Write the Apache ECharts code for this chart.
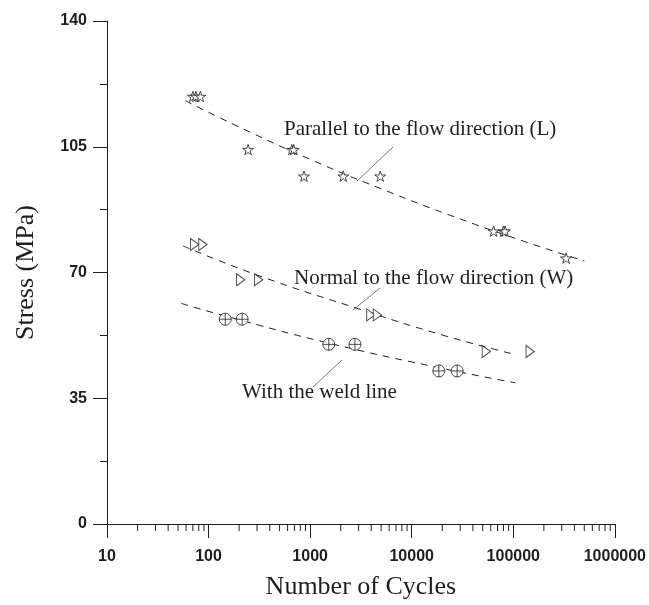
<!DOCTYPE html>
<html>
<head>
<meta charset="utf-8">
<script src="https://cdn.jsdelivr.net/npm/echarts@6/dist/echarts.min.js"></script>
<style>
  html, body { margin: 0; padding: 0; background: #fff; }
  #chart { width: 649px; height: 605px; }
</style>
</head>
<body>
<div id="chart"></div>
<script>
// Fatigue (S-N) results: [number of cycles, stress in MPa]
const parallelL = [[70, 119], [75, 119], [83, 119], [245, 104.2], [660, 104.2], [690, 104.2],
  [870, 96.8], [2120, 96.8], [4900, 96.8], [64000, 81.5], [80000, 81.5], [83000, 81.5], [331000, 74]];
const normalW = [[73, 77.8], [88, 77.8], [207, 68], [311, 68], [3960, 58.2], [4600, 58.2],
  [54300, 48], [146800, 48]];
const weldLine = [[146, 57], [214, 57], [1525, 50], [2760, 50], [18500, 42.6], [28000, 42.6]];

// Trend curves through each data set
const fitL = [[59, 117.8], [200, 110.5], [1000, 101.5], [5000, 93.3], [30000, 84.9], [150000, 78.0], [500000, 73.2]];
const fitW = [[56, 77.4], [300, 69.3], [2700, 60.3], [20000, 52.6], [100000, 47.3]];
const fitWeld = [[54, 61.4], [150, 57.8], [1500, 50.4], [20000, 43.3], [105000, 39.3]];

// Axis ticks
const yTicks = [0, 35, 70, 105, 140];
const xDecades = [10, 100, 1000, 10000, 100000, 1000000];
const xMinor = [];
for (let d = 0; d < xDecades.length - 1; d++) {
  for (let k = 2; k <= 9; k++) xMinor.push(k * xDecades[d]);
}

const INK = '#1e1e1e';
const serif = '"Liberation Serif", "DejaVu Serif", serif';
const sans = '"Liberation Sans", Arial, sans-serif';

const STAR = 'path://M50,0 L61,35 L98,35 L68,57 L79,91 L50,70 L21,91 L32,57 L2,35 L39,35 Z';
const TRI_RIGHT = 'path://M0,0 L10,6 L0,12 Z';
const CIRCLE_PLUS = 'path://M0,6 A6,6 0 1,1 12,6 A6,6 0 1,1 0,6 Z M6,0 L6,12 M0,6 L12,6';

function markerSeries(name, data, symbol, size) {
  return {
    name, type: 'scatter', data, symbol, symbolSize: size, symbolKeepAspect: true,
    itemStyle: { color: '#fff', borderColor: INK, borderWidth: 1 },
    z: 5, silent: true
  };
}
function curveSeries(name, data) {
  return {
    name, type: 'line', data, smooth: true, showSymbol: false, silent: true,
    lineStyle: { color: INK, width: 1, type: [7, 6] }, z: 3
  };
}

const chart = echarts.init(document.getElementById('chart'));
chart.setOption({
  animation: false,
  backgroundColor: '#fff',
  grid: { left: 107, right: 34, top: 21, bottom: 72 },
  xAxis: {
    type: 'log', logBase: 10, min: 10, max: 1000000,
    name: 'Number of Cycles', nameLocation: 'middle', nameGap: 50,
    nameTextStyle: { fontFamily: serif, fontSize: 26, color: INK },
    axisLine: { show: true, onZero: false, lineStyle: { color: INK, width: 1 } },
    axisTick: { show: true, inside: false, length: 14, lineStyle: { color: INK } },
    axisLabel: {
      fontFamily: sans, fontWeight: 'bold', fontSize: 16, color: INK, margin: 25,
      formatter: v => String(Math.round(v))
    },
    splitLine: { show: false },
    minorTick: { show: false }
  },
  yAxis: {
    type: 'value', min: yTicks[0], max: yTicks[yTicks.length - 1], interval: 35,
    name: 'Stress (MPa)', nameLocation: 'middle', nameGap: 68, nameRotate: 90,
    nameTextStyle: { fontFamily: serif, fontSize: 26, color: INK },
    axisLine: { show: true, lineStyle: { color: INK, width: 1 } },
    axisTick: { show: true, inside: false, length: 14, lineStyle: { color: INK } },
    minorTick: { show: true, splitNumber: 2, length: 7, lineStyle: { color: INK } },
    axisLabel: { fontFamily: sans, fontWeight: 'bold', fontSize: 16, color: INK, margin: 20 },
    splitLine: { show: false }
  },
  series: [
    curveSeries('fit L', fitL),
    curveSeries('fit W', fitW),
    curveSeries('fit weld', fitWeld),
    markerSeries('Parallel to the flow direction (L)', parallelL, STAR, 11),
    markerSeries('Normal to the flow direction (W)', normalW, TRI_RIGHT, [10, 12]),
    markerSeries('With the weld line', weldLine, CIRCLE_PLUS, 12),
    {
      // minor ticks at 2..9 within each decade of the log axis
      type: 'custom', silent: true, clip: false,
      data: xMinor.map(v => [v, 0]),
      renderItem: (params, api) => {
        const p = api.coord([api.value(0), 0]);
        return {
          type: 'line',
          shape: { x1: p[0], y1: p[1], x2: p[0], y2: p[1] + 7 },
          style: { stroke: INK, lineWidth: 1 }
        };
      }
    }
  ],
  graphic: [
    { type: 'text', left: 284, top: 119, style: { text: 'Parallel to the flow direction (L)', font: '21px ' + serif, fill: INK } },
    { type: 'text', left: 294, top: 268, style: { text: 'Normal to the flow direction (W)', font: '21px ' + serif, fill: INK } },
    { type: 'text', left: 242, top: 382, style: { text: 'With the weld line', font: '21px ' + serif, fill: INK } },
    { type: 'line', shape: { x1: 357, y1: 181, x2: 393, y2: 147 }, style: { stroke: '#555', lineWidth: 0.8 } },
    { type: 'line', shape: { x1: 353, y1: 310, x2: 380, y2: 288 }, style: { stroke: '#555', lineWidth: 0.8 } },
    { type: 'line', shape: { x1: 342, y1: 360, x2: 313, y2: 387 }, style: { stroke: '#555', lineWidth: 0.8 } }
  ]
});
</script>
</body>
</html>
